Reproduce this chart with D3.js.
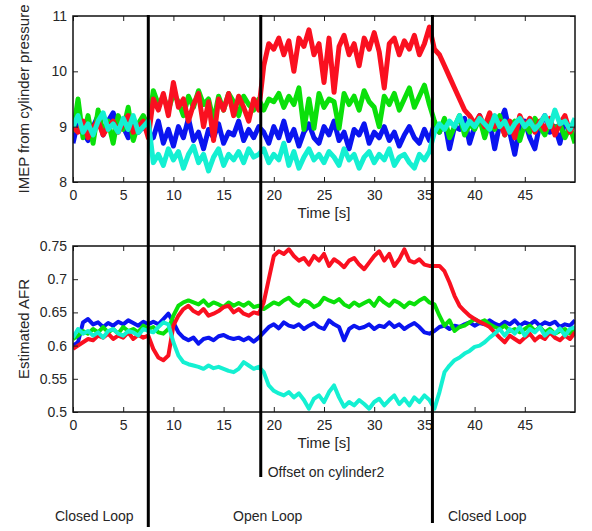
<!DOCTYPE html>
<html>
<head>
<meta charset="utf-8">
<script src="https://cdn.jsdelivr.net/npm/d3@7"></script>
<style>
  body { margin: 0; background: #fff; }
  text { font-family: "Liberation Sans", Arial, sans-serif; fill: #262626; }
</style>
</head>
<body>
<svg id="chart" width="592" height="531"></svg>
<script>
// time samples (s), every 0.5 s
const time = [0,0.5,1,1.5,2,2.5,3,3.5,4,4.5,5,5.5,6,6.5,7,7.5,8,8.5,9,9.5,10,10.5,11,11.5,12,12.5,13,13.5,14,14.5,15,15.5,16,16.5,17,17.5,18,18.5,19,19.5,20,20.5,21,21.5,22,22.5,23,23.5,24,24.5,25,25.5,26,26.5,27,27.5,28,28.5,29,29.5,30,30.5,31,31.5,32,32.5,33,33.5,34,34.5,35,35.5,36,36.5,37,37.5,38,38.5,39,39.5,40,40.5,41,41.5,42,42.5,43,43.5,44,44.5,45,45.5,46,46.5,47,47.5,48,48.5,49,49.5,50];

// IMEP from cylinder pressure
const imepRed = [9.0,8.9,9.1,8.8,9.0,9.1,8.85,9.0,9.1,8.9,9.05,9.2,8.9,9.0,9.1,8.8,
  9.5,9.3,9.6,9.2,9.8,9.35,9.5,9.1,9.4,9.6,9.0,9.45,8.75,9.5,9.3,9.6,9.2,9.55,9.35,9.1,9.5,9.3,
  10.1,10.5,10.4,10.6,10.3,10.55,10.0,10.6,10.45,10.75,10.3,10.5,9.8,10.6,9.62,10.45,10.65,10.3,10.5,10.1,10.6,10.4,10.7,10.35,9.7,10.5,10.6,10.3,10.55,10.4,10.65,10.3,10.5,10.8,
  10.4,10.3,10.1,9.9,9.7,9.5,9.3,9.2,9.05,9.2,9.0,9.25,9.0,9.1,8.85,9.1,8.8,9.2,9.0,9.15,8.9,9.1,8.95,9.15,8.85,9.05,9.2,8.9,9.1];
const imepGreen = [8.9,9.5,8.8,9.2,8.7,9.3,8.9,9.1,8.7,9.2,8.95,9.35,8.75,9.05,9.2,9.0,
  9.65,9.4,9.55,9.3,9.6,9.45,9.2,9.55,9.35,9.65,9.4,9.5,9.1,9.55,9.3,9.6,9.45,9.2,9.55,9.4,9.3,9.5,
  9.3,9.5,9.45,9.6,9.35,9.55,9.4,9.7,8.95,9.5,8.97,9.6,9.35,9.5,9.45,8.97,9.6,9.4,9.55,9.3,9.65,9.45,9.35,9.0,9.55,9.4,9.6,9.3,9.5,9.7,9.35,9.55,9.75,9.4,
  9.1,8.9,9.15,8.8,9.0,9.2,8.85,9.05,8.95,9.15,8.8,9.1,8.95,9.2,8.85,9.0,9.1,8.75,9.05,8.9,9.15,9.0,8.85,9.1,8.95,9.05,8.8,9.0,8.7];
const imepBlue = [8.7,9.1,8.9,8.75,9.0,9.2,8.85,9.1,9.25,8.95,9.0,8.8,9.1,8.9,9.0,8.9,
  8.8,9.1,8.7,8.95,8.65,9.0,8.8,9.15,8.75,8.9,8.6,8.95,8.8,9.05,8.7,8.9,8.85,9.1,8.75,8.95,8.8,9.0,
  8.9,8.7,9.0,8.8,9.1,8.75,8.95,8.65,8.9,9.05,8.8,8.7,9.0,8.85,9.1,8.75,8.9,8.6,8.95,8.85,9.05,8.7,8.9,8.8,9.0,8.75,8.9,8.65,8.85,9.0,8.8,8.7,8.95,8.75,
  9.05,8.9,9.1,8.6,9.0,8.95,9.15,8.7,9.0,9.2,8.85,9.1,8.6,9.05,9.3,8.9,8.5,9.0,9.1,8.8,8.6,9.05,9.2,8.9,9.0,8.7,9.1,8.95,9.05];
const imepCyan = [9.0,9.2,8.9,9.05,8.85,9.1,9.25,8.95,9.05,8.9,9.15,8.95,9.2,8.9,9.0,9.1,
  8.35,8.5,8.3,8.6,8.4,8.55,8.25,8.5,8.65,8.35,8.5,8.2,8.45,8.6,8.3,8.5,8.4,8.55,8.35,8.6,8.45,8.5,
  8.6,8.35,8.5,8.4,8.7,8.3,8.55,8.25,8.45,8.6,8.4,8.5,8.35,8.55,8.45,8.3,8.6,8.4,8.5,8.25,8.45,8.55,8.35,8.5,8.4,8.6,8.3,8.45,8.5,8.35,8.25,8.5,8.4,8.55,
  8.9,9.05,8.95,9.1,9.0,9.2,8.95,9.1,9.0,9.15,9.05,8.95,9.2,9.0,9.1,8.9,9.05,9.15,9.0,9.1,8.95,9.05,9.2,9.0,9.3,9.05,9.1,8.95,9.15];

// Estimated AFR
const afrRed = [0.595,0.6,0.605,0.61,0.608,0.615,0.612,0.618,0.61,0.615,0.612,0.62,0.61,0.616,0.612,0.615,
  0.595,0.582,0.578,0.585,0.63,0.645,0.655,0.66,0.652,0.648,0.655,0.645,0.648,0.652,0.658,0.66,0.65,0.655,0.648,0.645,0.65,0.648,
  0.665,0.7,0.735,0.742,0.738,0.745,0.735,0.728,0.732,0.722,0.735,0.728,0.738,0.72,0.73,0.725,0.718,0.728,0.732,0.722,0.715,0.725,0.735,0.742,0.728,0.738,0.72,0.73,0.745,0.728,0.725,0.73,0.722,0.72,
  0.72,0.72,0.712,0.695,0.675,0.66,0.652,0.645,0.64,0.636,0.632,0.628,0.62,0.612,0.605,0.615,0.61,0.605,0.612,0.618,0.608,0.614,0.61,0.62,0.612,0.608,0.615,0.61,0.62];
const afrGreen = [0.61,0.615,0.622,0.618,0.625,0.62,0.628,0.62,0.625,0.618,0.628,0.622,0.625,0.62,0.63,0.625,
  0.628,0.62,0.618,0.625,0.645,0.66,0.665,0.668,0.665,0.662,0.668,0.66,0.665,0.662,0.658,0.665,0.66,0.664,0.66,0.665,0.658,0.66,
  0.655,0.66,0.665,0.662,0.668,0.672,0.664,0.66,0.668,0.665,0.658,0.662,0.672,0.668,0.665,0.67,0.662,0.658,0.665,0.66,0.664,0.668,0.66,0.672,0.665,0.66,0.668,0.664,0.658,0.665,0.662,0.668,0.672,0.665,
  0.662,0.645,0.63,0.638,0.622,0.628,0.63,0.635,0.64,0.635,0.638,0.632,0.628,0.625,0.63,0.622,0.625,0.62,0.625,0.63,0.622,0.628,0.62,0.625,0.618,0.622,0.625,0.618,0.625];
const afrBlue = [0.6,0.605,0.635,0.64,0.632,0.635,0.628,0.634,0.63,0.636,0.632,0.638,0.634,0.63,0.636,0.632,
  0.636,0.632,0.64,0.648,0.635,0.62,0.612,0.608,0.612,0.603,0.61,0.612,0.608,0.614,0.616,0.612,0.61,0.612,0.608,0.612,0.606,0.612,
  0.62,0.628,0.632,0.626,0.635,0.63,0.628,0.632,0.625,0.63,0.634,0.628,0.625,0.638,0.632,0.628,0.608,0.625,0.63,0.626,0.628,0.632,0.625,0.63,0.628,0.635,0.628,0.632,0.625,0.63,0.634,0.628,0.62,0.618,
  0.622,0.628,0.63,0.625,0.63,0.628,0.632,0.635,0.63,0.634,0.632,0.638,0.633,0.63,0.636,0.632,0.638,0.63,0.635,0.632,0.637,0.63,0.635,0.632,0.636,0.628,0.632,0.63,0.638];
const afrCyan = [0.612,0.625,0.618,0.622,0.615,0.62,0.612,0.622,0.625,0.618,0.615,0.622,0.62,0.615,0.625,0.622,
  0.62,0.628,0.635,0.632,0.605,0.585,0.575,0.572,0.57,0.568,0.565,0.57,0.566,0.568,0.565,0.562,0.56,0.565,0.575,0.57,0.565,0.568,
  0.56,0.54,0.532,0.528,0.525,0.53,0.522,0.528,0.518,0.505,0.52,0.525,0.515,0.53,0.54,0.522,0.508,0.515,0.51,0.518,0.512,0.505,0.515,0.52,0.51,0.518,0.525,0.512,0.52,0.51,0.522,0.515,0.525,0.518,
  0.505,0.53,0.56,0.57,0.578,0.582,0.588,0.592,0.598,0.6,0.605,0.612,0.618,0.625,0.615,0.625,0.618,0.628,0.615,0.625,0.62,0.628,0.615,0.622,0.618,0.626,0.615,0.625,0.628];

const xTicks = [0,5,10,15,20,25,30,35,40,45];
const imepTicks = [8,9,10,11];
const afrTicks = [0.5,0.55,0.6,0.65,0.7,0.75];
const afrTickLabels = ["0.5","0.55","0.6","0.65","0.7","0.75"];

// mode switch times and annotation labels
const switchTimes = [7.5, 18.7, 35.8];
const switchBottoms = [527, 477, 523];
const modeLabels = [
  {text: "Closed Loop", x: 55},
  {text: "Open Loop", x: 233},
  {text: "Closed Loop", x: 448}
];

const colors = {blue: "#0a14f0", green: "#0ae00a", red: "#fa1020", cyan: "#14f0d2"};

const svg = d3.select("#chart");
const left = 73, right = 575;

const x = d3.scaleLinear().domain([0, 50]).range([left, right]);

function panel(top, bottom, domain, yticks, yfmt, series, ylabel, clipId, lw) {
  const y = d3.scaleLinear().domain(domain).range([bottom, top]);
  const g = svg.append("g");

  g.append("clipPath").attr("id", clipId)
    .append("rect").attr("x", left).attr("y", top)
    .attr("width", right - left).attr("height", bottom - top);

  const line = d3.line()
    .x((d, i) => x(time[i]))
    .y(d => y(d));

  const lines = g.append("g").attr("clip-path", `url(#${clipId})`);
  series.forEach(s => {
    lines.append("path")
      .attr("d", line(s.values))
      .attr("fill", "none")
      .attr("stroke", s.color)
      .attr("stroke-width", lw)
      .attr("stroke-linejoin", "round");
  });

  // axes, matlab style ticks pointing in
  const xb = g.append("g").attr("transform", `translate(0,${bottom})`)
    .call(d3.axisBottom(x).tickValues(xTicks).tickSizeInner(-5).tickSizeOuter(0).tickPadding(8));
  const xt = g.append("g").attr("transform", `translate(0,${top})`)
    .call(d3.axisTop(x).tickValues(xTicks).tickSizeInner(-5).tickSizeOuter(0).tickFormat(""));
  const yl = g.append("g").attr("transform", `translate(${left},0)`)
    .call(d3.axisLeft(y).tickValues(yticks).tickSizeInner(-5).tickSizeOuter(0).tickPadding(6).tickFormat(yfmt));
  const yr = g.append("g").attr("transform", `translate(${right},0)`)
    .call(d3.axisRight(y).tickValues(yticks).tickSizeInner(-5).tickSizeOuter(0).tickFormat(""));
  [xb, xt, yl, yr].forEach(a => {
    a.select(".domain").remove();
    a.selectAll("line").attr("stroke", "#222");
    a.selectAll("text").style("font-size", "14px").attr("fill", "#262626")
      .style("font-family", "'Liberation Sans', Arial, sans-serif");
  });

  g.append("rect").attr("x", left).attr("y", top)
    .attr("width", right - left).attr("height", bottom - top)
    .attr("fill", "none").attr("stroke", "#111").attr("stroke-width", 1.5);

  g.append("text")
    .attr("x", (left + right) / 2).attr("y", bottom + 36)
    .attr("text-anchor", "middle").style("font-size", "15px")
    .text("Time [s]");

  g.append("text")
    .attr("transform", `translate(29,${(top + bottom) / 2}) rotate(-90)`)
    .attr("text-anchor", "middle").style("font-size", "15px")
    .text(ylabel);
}

panel(16, 182, [8, 11], imepTicks, d3.format("d"), [
  {values: imepBlue, color: colors.blue},
  {values: imepGreen, color: colors.green},
  {values: imepRed, color: colors.red},
  {values: imepCyan, color: colors.cyan}
], "IMEP from cylinder pressure", "clipTop", 5);

panel(246, 412, [0.5, 0.75], afrTicks, (d, i) => afrTickLabels[afrTicks.indexOf(d)], [
  {values: afrBlue, color: colors.blue},
  {values: afrGreen, color: colors.green},
  {values: afrRed, color: colors.red},
  {values: afrCyan, color: colors.cyan}
], "Estimated AFR", "clipBottom", 4);

// vertical switch markers across both panels
svg.selectAll(".switch")
  .data(switchTimes)
  .enter().append("line")
  .attr("class", "switch")
  .attr("x1", d => x(d)).attr("x2", d => x(d))
  .attr("y1", 15)
  .attr("y2", (d, i) => switchBottoms[i])
  .attr("stroke", "#000").attr("stroke-width", 3);

svg.append("text")
  .attr("x", x(switchTimes[1]) + 7).attr("y", 477)
  .style("font-size", "14px")
  .text("Offset on cylinder2");

svg.selectAll(".mode")
  .data(modeLabels)
  .enter().append("text")
  .attr("class", "mode")
  .attr("x", d => d.x).attr("y", 521)
  .style("font-size", "14px")
  .text(d => d.text);
</script>
</body>
</html>
